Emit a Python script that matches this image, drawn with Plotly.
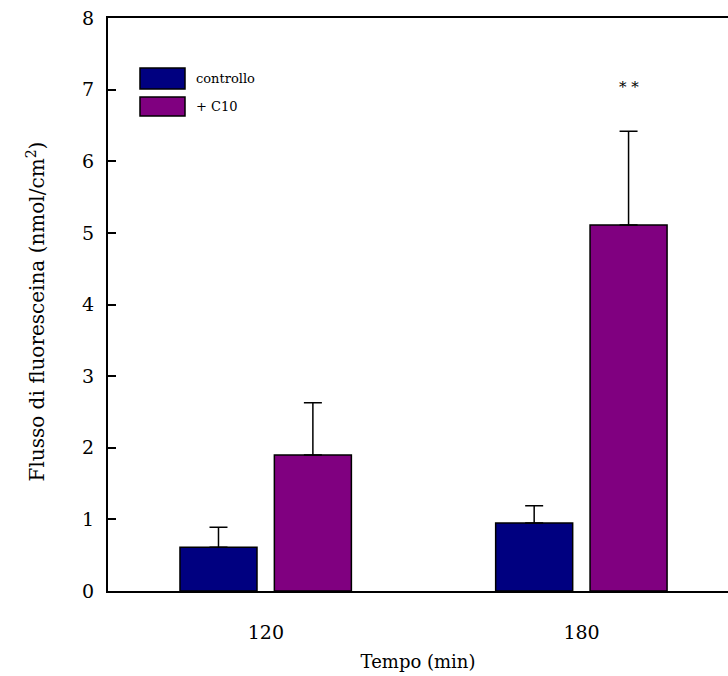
import plotly.graph_objects as go

categories = ["120", "180"]
series_names = ["controllo", "+ C10"]
controllo = [0.61, 0.95]
controllo_err = [0.28, 0.24]
c10 = [1.90, 5.11]
c10_err = [0.73, 1.31]
y_ticks = [0, 1, 2, 3, 4, 5, 6, 7, 8]
significance = {"180": "* *"}

colors = ["#000080", "#800080"]
FONT = "DejaVu Serif"
bar_w = 0.244
PX_PER_UNIT = 620 / 1.964

fig = go.Figure()
for name, vals, errs, col, off in [
    (series_names[0], controllo, controllo_err, colors[0], -0.272),
    (series_names[1], c10, c10_err, colors[1], 0.027),
]:
    fig.add_trace(go.Bar(
        x=categories, y=vals, name=name, width=bar_w, offset=off,
        marker=dict(color=col, line=dict(color="black", width=1.5)),
        error_y=dict(type="data", array=errs, arrayminus=[0] * len(errs),
                     symmetric=False, color="black", thickness=1.5, width=9),
        showlegend=False,
    ))

# significance marker above the C10 bar
for cat, txt in significance.items():
    i = categories.index(cat)
    fig.add_annotation(x=i, y=c10[i] + c10_err[i] + 0.62, text=txt, showarrow=False,
                       xref="x", yref="y",
                       xshift=(0.027 + bar_w / 2) * PX_PER_UNIT,
                       font=dict(family=FONT, size=15, color="black"))

# custom legend
leg = [(0.0516, 0.1242, 0.9127, 0.876), (0.0516, 0.1242, 0.862, 0.829)]
for (x0, x1, y1, y0), col, name in zip(leg, colors, series_names):
    fig.add_shape(type="rect", xref="paper", yref="paper", x0=x0, x1=x1, y0=y0, y1=y1,
                  fillcolor=col, line=dict(color="black", width=1.5))
    fig.add_annotation(xref="paper", yref="paper", x=0.139, y=(y0 + y1) / 2,
                       xanchor="left", yanchor="middle", text=name, showarrow=False,
                       font=dict(family=FONT, size=13, color="black"))

# y-axis title
fig.add_annotation(xref="paper", yref="paper", x=0, y=0.5, xshift=-73, yshift=-7,
                   xanchor="center", yanchor="middle", textangle=-90, showarrow=False,
                   text="Flusso di fluoresceina (nmol/cm<sup>2</sup>)",
                   font=dict(family=FONT, size=20, color="black"))

fig.update_layout(
    width=728, height=676,
    margin=dict(l=108, r=0, t=18, b=85),
    paper_bgcolor="white", plot_bgcolor="white",
    barmode="overlay",
    font=dict(family=FONT, color="black"),
    xaxis=dict(type="category", range=[-0.5, 1.464], showline=True, mirror=True,
               linecolor="black", linewidth=2, ticks="outside", ticklen=0,
               ticklabelstandoff=23,
               tickfont=dict(family=FONT, size=19), showgrid=False, zeroline=False,
               title=dict(text="Tempo (min)", font=dict(family=FONT, size=18), standoff=14)),
    yaxis=dict(range=[0, 8], tickvals=y_ticks, showline=True, linecolor="black",
               linewidth=2, ticks="inside", ticklen=8, tickwidth=1.5, tickcolor="black",
               ticklabelstandoff=8, tickfont=dict(family=FONT, size=19),
               showgrid=False, zeroline=False),
)

fig.write_html("out.html", config={"displayModeBar": False},
               post_script="document.body.style.margin='0';document.body.style.overflow='hidden';")
